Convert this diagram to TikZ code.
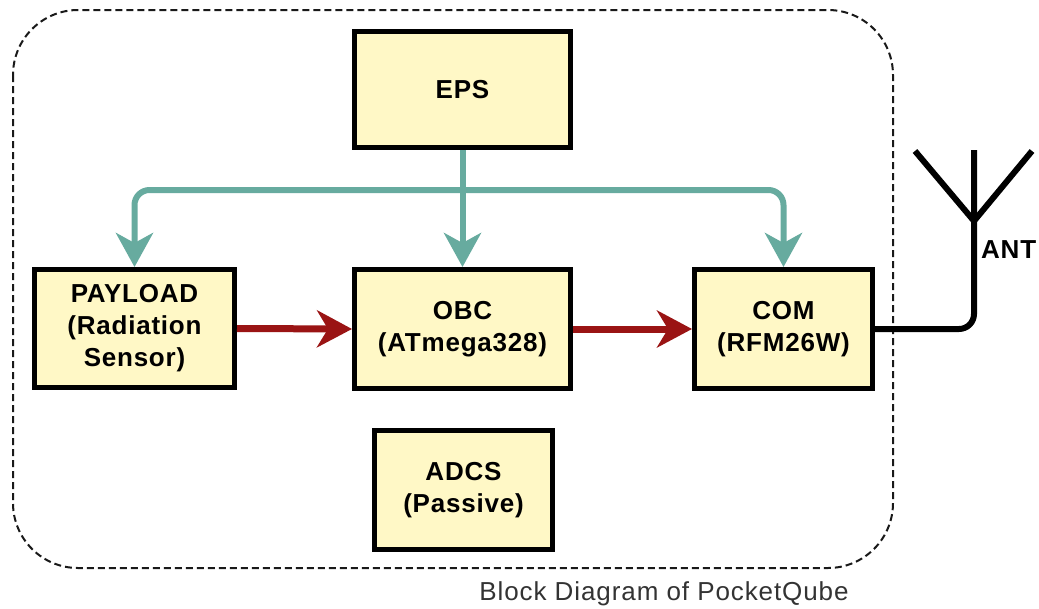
\documentclass[tikz,border=0pt]{standalone}
\usepackage{fontspec}
\setmainfont{Liberation Sans}
\newfontfamily\spacedfont[LetterSpace=3]{Liberation Sans}
\usetikzlibrary{arrows.meta}
\definecolor{boxfill}{HTML}{FFF8C6}
\definecolor{busteal}{HTML}{67AB9F}
\definecolor{datared}{HTML}{9A1414}
\definecolor{captiongray}{HTML}{333333}
\tikzset{
  blockbox/.style={draw=black, line width=5pt, fill=boxfill, align=center, inner sep=0pt,
    font=\spacedfont\bfseries\fontsize{26}{32}\selectfont},
  busarrow/.style={draw=busteal, line width=6pt, rounded corners=15pt,
    -{Stealth[length=34pt, width=37pt, inset=10pt]}},
  dataarrow/.style={draw=datared, line width=7pt,
    -{Stealth[length=35pt, width=37pt, inset=11pt]}},
  antline/.style={draw=black, line width=6pt},
}
\begin{document}
\begin{tikzpicture}[x=1pt,y=-1pt]
\useasboundingbox (0,0) rectangle (1039,608);
\draw[draw=black!90, line width=2pt, dash pattern=on 7pt off 4pt, rounded corners=65pt]
  (13,10) rectangle (893,568);

\node[blockbox, minimum width=216pt, minimum height=116pt] (eps) at (462.5,89.5) {EPS};
\node[blockbox, minimum width=200pt, minimum height=118pt] (payload) at (134.5,328.5) {PAYLOAD\\(Radiation\\Sensor)};
\node[blockbox, minimum width=216pt, minimum height=119pt] (obc) at (462.5,329) {OBC\\(ATmega328)};
\node[blockbox, minimum width=178pt, minimum height=119pt] (com) at (783.5,329) {COM\\(RFM26W)};
\node[blockbox, minimum width=178pt, minimum height=119pt] (adcs) at (463.5,490) {ADCS\\(Passive)};

\coordinate (bus) at (462.5,190);
\draw[busarrow] (eps.south) -- (obc.north);
\draw[busarrow] (bus) -| (payload.north);
\draw[busarrow] (bus) -| (com.north);

\draw[dataarrow] (payload.east) -- (obc.west);
\draw[dataarrow] (obc.east) -- (com.west);

\coordinate (mast) at (974,150);
\coordinate (feed) at (974,221);
\coordinate (armL) at (915,151);
\coordinate (armR) at (1032,151);
\draw[antline, rounded corners=15pt] (com.east) -| (mast);
\draw[antline] (armL) -- (feed) -- (armR);
\node[anchor=base west, inner sep=0pt, font=\spacedfont\bfseries\fontsize{26}{30}\selectfont] (ant) at (981,258) {ANT};

\node[anchor=base, text=captiongray, inner sep=0pt, font=\fontsize{26}{30}\addfontfeatures{LetterSpace=3.5}\selectfont] (caption) at (664,600) {Block Diagram of PocketQube};
\end{tikzpicture}
\end{document}
